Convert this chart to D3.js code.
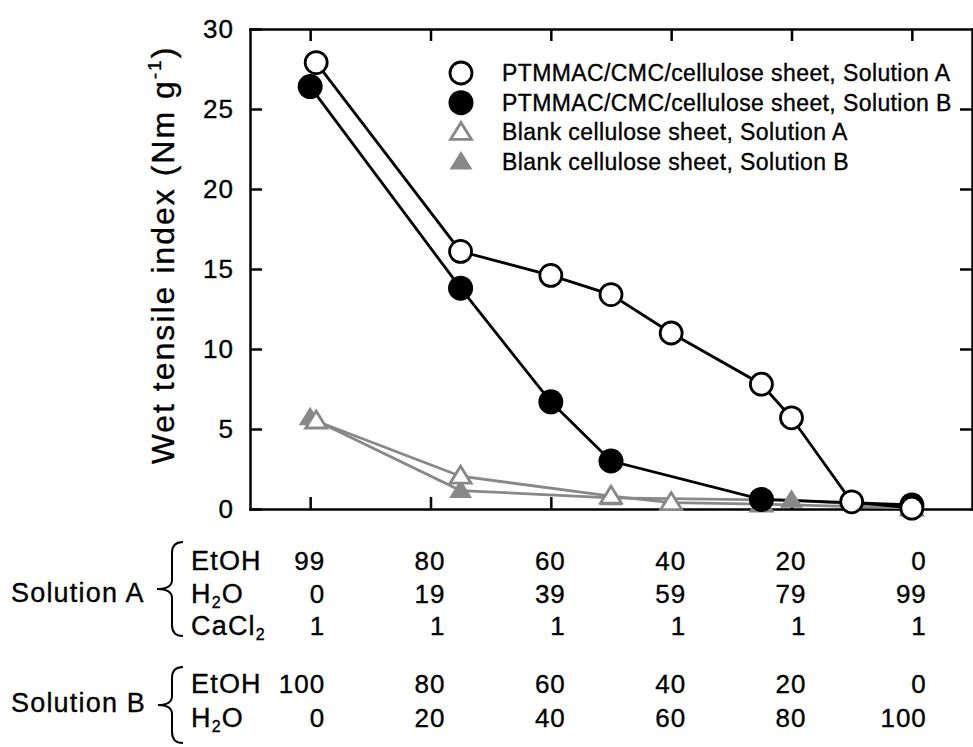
<!DOCTYPE html>
<html>
<head>
<meta charset="utf-8">
<script src="https://cdnjs.cloudflare.com/ajax/libs/d3/7.8.5/d3.min.js"></script>
<style>
  body { margin: 0; background: #fff; }
  svg { font-family: "Liberation Sans", Arial, Helvetica, sans-serif; }
  svg text { fill: #000; stroke: #000; stroke-width: 0.35px; }
  .axis path, .axis line { stroke: #000; stroke-width: 2.5; }
  .axis text { font-size: 26px; letter-spacing: 1px; }
</style>
</head>
<body>
<div id="chart"></div>
<script>
var W = 973, H = 747;

// EtOH content (%) of the immersion solution, wet tensile index (Nm/g)
var ptmmacA_x = [99, 75, 60, 50, 40, 25, 20, 10, 0];
var ptmmacA_y = [27.9, 16.1, 14.6, 13.4, 11.0, 7.8, 5.7, 0.45, 0.05];
var ptmmacB_x = [100, 75, 60, 50, 25, 0];
var ptmmacB_y = [26.4, 13.8, 6.7, 3.0, 0.6, 0.25];
var blankA_x = [99, 75, 50, 40, 25, 0];
var blankA_y = [5.5, 2.05, 0.8, 0.4, 0.3, 0.05];
var blankB_x = [100, 75, 50, 20, 0];
var blankB_y = [5.7, 1.15, 0.7, 0.55, 0.1];

var legendLabels = [
  "PTMMAC/CMC/cellulose sheet, Solution A",
  "PTMMAC/CMC/cellulose sheet, Solution B",
  "Blank cellulose sheet, Solution A",
  "Blank cellulose sheet, Solution B"
];

var yTicks = [0, 5, 10, 15, 20, 25, 30];
var xTicks = [100, 80, 60, 40, 20, 0];

// composition table under the axis
var solA_EtOH = [99, 80, 60, 40, 20, 0];
var solA_H2O = [0, 19, 39, 59, 79, 99];
var solA_CaCl2 = [1, 1, 1, 1, 1, 1];
var solB_EtOH = [100, 80, 60, 40, 20, 0];
var solB_H2O = [0, 20, 40, 60, 80, 100];

var gray = "#888888";

var svg = d3.select("#chart").append("svg")
    .attr("width", W)
    .attr("height", H);

var xScale = d3.scaleLinear().domain([110, -10]).range([250, 972]);
var yScale = d3.scaleLinear().domain([0, 30]).range([509, 29]);

// frame + axes, ticks pointing inward
svg.append("g").attr("class", "axis")
  .attr("transform", "translate(250,0)")
  .call(d3.axisLeft(yScale).tickValues(yTicks).tickSizeInner(-12).tickSizeOuter(0).tickPadding(16));
svg.append("g").attr("class", "axis")
  .attr("transform", "translate(972,0)")
  .call(d3.axisRight(yScale).tickValues(yTicks.slice(1, -1)).tickSizeInner(-12).tickSizeOuter(0).tickFormat(""));
svg.append("g").attr("class", "axis")
  .attr("transform", "translate(0,509)")
  .call(d3.axisBottom(xScale).tickValues(xTicks).tickSizeInner(-12).tickSizeOuter(0).tickFormat(""));
svg.append("g").attr("class", "axis")
  .attr("transform", "translate(0,29)")
  .call(d3.axisTop(xScale).tickValues(xTicks).tickSizeInner(-12).tickSizeOuter(0).tickFormat(""));
svg.selectAll(".axis .domain").attr("stroke-linecap", "square");

// y axis title
var ylab = svg.append("text")
  .attr("transform", "translate(174,255) rotate(-90)")
  .attr("text-anchor", "middle")
  .style("font-size", "32px")
  .style("letter-spacing", "2px");
ylab.append("tspan").text("Wet tensile index (Nm g");
ylab.append("tspan").attr("dy", -13).style("font-size", "19px").text("-1");
ylab.append("tspan").attr("dy", 13).text(")");

function pts(xs, ys) {
  return xs.map(function(d, i) { return {x: d, y: ys[i]}; });
}

var line = d3.line()
  .x(function(d) { return xScale(d.x); })
  .y(function(d) { return yScale(d.y); });

var tri = "M0,-10 L10.5,7 L-10.5,7 Z";

var series = [
  {data: pts(blankB_x, blankB_y), color: gray, shape: "tri", fill: gray},
  {data: pts(blankA_x, blankA_y), color: gray, shape: "tri", fill: "#fff"},
  {data: pts(ptmmacB_x, ptmmacB_y), color: "#000", shape: "circle", fill: "#000"},
  {data: pts(ptmmacA_x, ptmmacA_y), color: "#000", shape: "circle", fill: "#fff"}
];

// lines first, then markers on top
series.forEach(function(s) {
  svg.append("path")
    .datum(s.data)
    .attr("d", line)
    .attr("fill", "none")
    .attr("stroke", s.color)
    .attr("stroke-width", 2.8);
});

function drawMarker(g, s) {
  if (s.shape == "circle") {
    g.append("circle")
      .attr("r", s.fill == "#000" ? 12.5 : 11)
      .attr("fill", s.fill)
      .attr("stroke", "#000")
      .attr("stroke-width", s.fill == "#000" ? 0 : 2.8);
  } else {
    g.append("path")
      .attr("d", s.fill == gray ? "M0,-11 L11.5,7.5 L-11.5,7.5 Z" : tri)
      .attr("fill", s.fill)
      .attr("stroke", gray)
      .attr("stroke-width", s.fill == gray ? 0 : 2.8)
      .attr("stroke-linejoin", "miter");
  }
}

series.forEach(function(s) {
  svg.selectAll(null)
    .data(s.data)
    .enter().append("g")
      .attr("transform", function(d) { return "translate(" + xScale(d.x) + "," + yScale(d.y) + ")"; })
      .each(function() { drawMarker(d3.select(this), s); });
});

// legend
var legendOrder = [3, 2, 1, 0];
legendLabels.forEach(function(lab, i) {
  var ly = 73 + i * 29.7;
  var g = svg.append("g").attr("transform", "translate(461," + ly + ")");
  drawMarker(g, series[legendOrder[i]]);
  svg.append("text")
    .attr("x", 502)
    .attr("y", ly + 8)
    .style("font-size", "23px")
    .style("letter-spacing", "0.4px")
    .text(lab);
});

// composition table
function rowText(y, label, sub, rest, values) {
  var t = svg.append("text")
    .attr("x", 191)
    .attr("y", y)
    .style("font-size", "27px")
    .style("letter-spacing", "1.2px");
  t.append("tspan").text(label);
  if (sub) {
    t.append("tspan").attr("dy", 5).style("font-size", "16px").text(sub);
    t.append("tspan").attr("dy", -5).text(rest);
  }
  svg.selectAll(null)
    .data(values)
    .enter().append("text")
      .attr("x", function(d, i) { return xScale(xTicks[i]) + 15; })
      .attr("y", y)
      .attr("text-anchor", "end")
      .style("font-size", "26px")
      .style("letter-spacing", "1px")
      .text(function(d) { return d; });
}

rowText(570, "EtOH", null, null, solA_EtOH);
rowText(603, "H", "2", "O", solA_H2O);
rowText(635, "CaCl", "2", "", solA_CaCl2);
rowText(693, "EtOH", null, null, solB_EtOH);
rowText(727, "H", "2", "O", solB_H2O);

svg.append("text").attr("x", 11).attr("y", 602)
  .style("font-size", "27px").style("letter-spacing", "1.2px").text("Solution A");
svg.append("text").attr("x", 11).attr("y", 712)
  .style("font-size", "27px").style("letter-spacing", "1.2px").text("Solution B");

function brace(xc, xl, y0, y1) {
  var ym = (y0 + y1) / 2;
  return "M" + (xl + 11) + "," + y0 +
    " Q" + xl + "," + y0 + " " + xl + "," + (y0 + 11) +
    " L" + xl + "," + (ym - 9) +
    " Q" + xl + "," + ym + " " + xc + "," + ym +
    " Q" + xl + "," + ym + " " + xl + "," + (ym + 9) +
    " L" + xl + "," + (y1 - 11) +
    " Q" + xl + "," + y1 + " " + (xl + 11) + "," + y1;
}

svg.append("path").attr("d", brace(157, 172, 542, 636))
  .attr("fill", "none").attr("stroke", "#000").attr("stroke-width", 2);
svg.append("path").attr("d", brace(158, 172, 667, 743))
  .attr("fill", "none").attr("stroke", "#000").attr("stroke-width", 2);
</script>
</body>
</html>
